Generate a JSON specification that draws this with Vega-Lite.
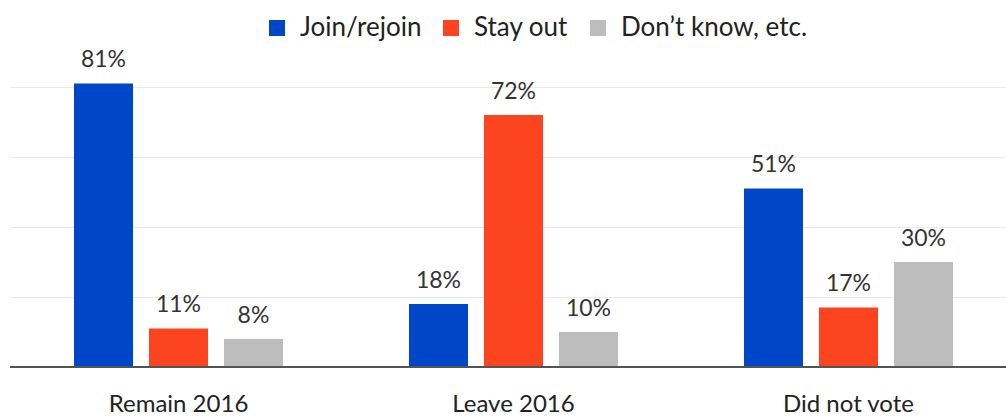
{
  "$schema": "https://vega.github.io/schema/vega-lite/v6.json",
  "autosize": "none",
  "width": 996,
  "height": 300,
  "padding": {"left": 10, "top": 67, "right": 0, "bottom": 52},
  "background": "white",
  "data": {
    "values": [
      {"group": "Remain 2016", "answer": "Join/rejoin", "value": 81},
      {"group": "Remain 2016", "answer": "Stay out", "value": 11},
      {"group": "Remain 2016", "answer": "Don’t know, etc.", "value": 8},
      {"group": "Leave 2016", "answer": "Join/rejoin", "value": 18},
      {"group": "Leave 2016", "answer": "Stay out", "value": 72},
      {"group": "Leave 2016", "answer": "Don’t know, etc.", "value": 10},
      {"group": "Did not vote", "answer": "Join/rejoin", "value": 51},
      {"group": "Did not vote", "answer": "Stay out", "value": 17},
      {"group": "Did not vote", "answer": "Don’t know, etc.", "value": 30}
    ]
  },
  "config": {
    "font": "Lato",
    "view": {"stroke": null}
  },
  "encoding": {
    "x": {
      "field": "group",
      "type": "nominal",
      "sort": ["Remain 2016", "Leave 2016", "Did not vote"],
      "scale": {"paddingInner": 0.376, "paddingOuter": 0.1746, "align": 0.547},
      "axis": {
        "title": null,
        "labelAngle": 0,
        "labelFontSize": 24,
        "labelColor": "#222",
        "labelPadding": 25,
        "ticks": false,
        "domainColor": "#555",
        "domainWidth": 1
      }
    },
    "xOffset": {
      "field": "answer",
      "type": "nominal",
      "sort": ["Join/rejoin", "Stay out", "Don’t know, etc."],
      "scale": {"paddingInner": 0.213, "paddingOuter": 0}
    },
    "y": {
      "field": "value",
      "type": "quantitative",
      "scale": {"domain": [0, 85.714], "nice": false},
      "axis": {
        "title": null,
        "values": [0, 20, 40, 60, 80],
        "labels": false,
        "ticks": false,
        "domain": false,
        "gridColor": "#e8e8e8",
        "gridWidth": 1
      }
    }
  },
  "layer": [
    {
      "mark": {"type": "bar"},
      "encoding": {
        "color": {
          "field": "answer",
          "type": "nominal",
          "sort": ["Join/rejoin", "Stay out", "Don’t know, etc."],
          "scale": {
            "domain": ["Join/rejoin", "Stay out", "Don’t know, etc."],
            "range": ["#0046c8", "#fc4520", "#bdbdbd"]
          },
          "legend": {
            "title": null,
            "orient": "none",
            "legendX": 254,
            "legendY": -52,
            "direction": "horizontal",
            "symbolType": "square",
            "symbolSize": 256,
            "symbolStrokeWidth": 0,
            "labelFontSize": 26,
            "labelColor": "#222",
            "labelOffset": 10,
            "labelLimit": 0,
            "columnPadding": 16
          }
        }
      }
    },
    {
      "mark": {"type": "text", "baseline": "bottom", "dy": -11, "fontSize": 23, "color": "#333", "text": {"expr": "datum.value + '%'"}},
      "encoding": {
        "color": {"value": "#333"}
      }
    },
    {
      "mark": {"type": "rule", "color": "#555", "strokeWidth": 1},
      "encoding": {"y": {"datum": 0}, "x": {"value": 0}, "x2": {"value": 996}, "xOffset": null}
    }
  ]
}
